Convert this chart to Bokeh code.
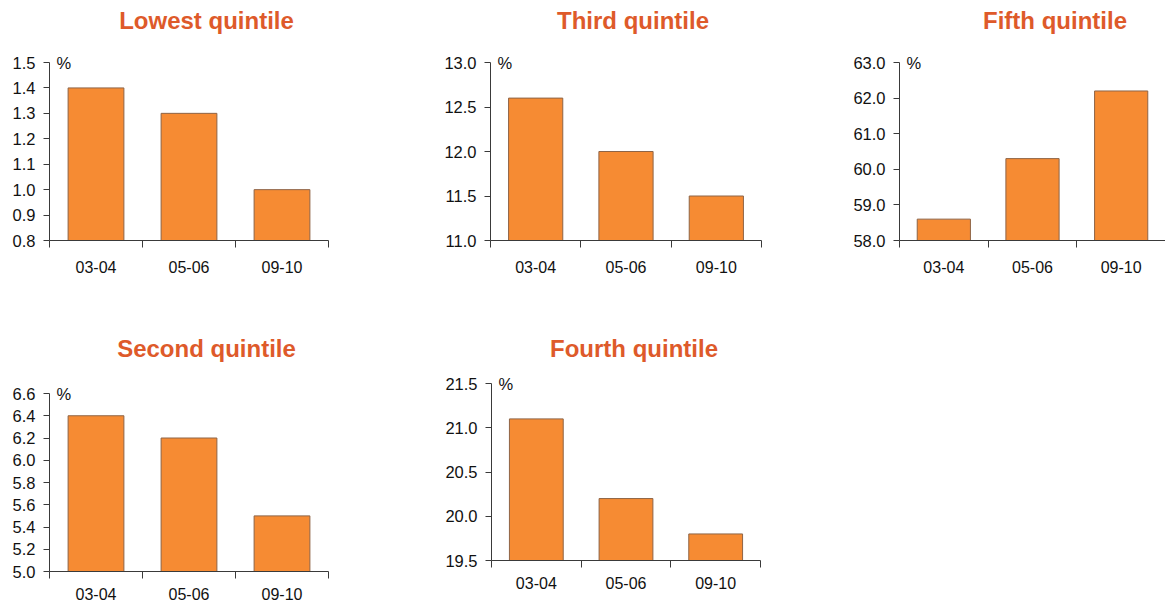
from bokeh.plotting import figure
from bokeh.models import (FactorRange, Range1d, LinearAxis, FixedTicker, Label,
                          NumeralTickFormatter)
from bokeh.layouts import column, row
from bokeh.embed import file_html
from bokeh.resources import INLINE

# ---------------- data ----------------
categories = ["03-04", "05-06", "09-10"]

lowest_values = [1.4, 1.3, 1.0]
second_values = [6.4, 6.2, 5.5]
third_values = [12.6, 12.0, 11.5]
fourth_values = [21.1, 20.2, 19.8]
fifth_values = [58.6, 60.3, 62.2]

lowest_ticks = [0.8, 0.9, 1.0, 1.1, 1.2, 1.3, 1.4, 1.5]
second_ticks = [5.0, 5.2, 5.4, 5.6, 5.8, 6.0, 6.2, 6.4, 6.6]
third_ticks = [11.0, 11.5, 12.0, 12.5, 13.0]
fourth_ticks = [19.5, 20.0, 20.5, 21.0, 21.5]
fifth_ticks = [58.0, 59.0, 60.0, 61.0, 62.0, 63.0]

titles = ["Lowest quintile", "Second quintile", "Third quintile",
          "Fourth quintile", "Fifth quintile"]
unit_label = "%"

# ---------------- style ----------------
TITLE_COLOR = "#DE5A2A"
BAR_FILL = "#F68B33"
BAR_LINE = "#8E6446"
AXIS_COLOR = "#3A3A3A"
TEXT_COLOR = "#111111"
FONT = "Liberation Sans"


def panel(title, values, ticks, width, height, bl, br, bb,
          top_tick_px, axis_px, title_dx, title_dy, x_standoff):
    """top_tick_px: distance from frame top to highest tick (px);
    axis_px: pixel span between lowest and highest tick;
    title_dx: title centre offset from the y axis (px);
    title_dy: title centre height above the highest tick (px)."""
    span = ticks[-1] - ticks[0]
    y_end = ticks[-1] + span * top_tick_px / axis_px
    p = figure(x_range=FactorRange(*categories),
               y_range=Range1d(ticks[0], y_end),
               width=width, height=height,
               min_border_left=bl, min_border_right=br,
               min_border_top=0, min_border_bottom=bb,
               x_axis_type=None, y_axis_type=None,
               output_backend="svg", toolbar_location=None)
    p.outline_line_color = None
    p.xgrid.visible = False
    p.ygrid.visible = False
    p.background_fill_color = "white"
    p.border_fill_color = "white"

    p.vbar(x=categories, top=values, bottom=ticks[0], width=0.6,
           fill_color=BAR_FILL, line_color=BAR_LINE, line_width=1)

    # y axis (line limited to the tick span)
    yaxis = LinearAxis(ticker=FixedTicker(ticks=ticks),
                       formatter=NumeralTickFormatter(format="0.0"),
                       bounds=(ticks[0], ticks[-1]))
    yaxis.axis_line_color = AXIS_COLOR
    yaxis.major_tick_line_color = AXIS_COLOR
    yaxis.major_tick_out = 6
    yaxis.major_tick_in = 0
    yaxis.minor_tick_line_color = None
    yaxis.major_label_standoff = 8
    yaxis.major_label_text_font = FONT
    yaxis.major_label_text_font_size = "16.5px"
    yaxis.major_label_text_color = TEXT_COLOR
    p.add_layout(yaxis, "left")

    # x axis: labels at category centres, ticks at category boundaries
    n = len(categories)
    centres = [i + 0.5 for i in range(n)]
    bounds = [float(i) for i in range(n + 1)]
    xaxis = LinearAxis(ticker=FixedTicker(ticks=centres, minor_ticks=bounds),
                       major_label_overrides={c: lab for c, lab in zip(centres, categories)})
    xaxis.axis_line_color = AXIS_COLOR
    xaxis.major_tick_line_color = None
    xaxis.minor_tick_line_color = AXIS_COLOR
    xaxis.minor_tick_out = 7
    xaxis.minor_tick_in = 0
    xaxis.major_tick_out = 7
    xaxis.major_tick_in = 0
    xaxis.major_label_standoff = x_standoff
    xaxis.major_label_text_font = FONT
    xaxis.major_label_text_font_size = "16px"
    xaxis.major_label_text_color = TEXT_COLOR
    p.add_layout(xaxis, "below")

    # percent sign next to the top of the y axis
    p.add_layout(Label(x=0, y=ticks[-1], x_offset=7, text=unit_label,
                       text_baseline="middle", text_align="left",
                       text_font=FONT, text_font_size="16.5px",
                       text_color=TEXT_COLOR))

    # panel title
    p.add_layout(Label(x=0, y=ticks[-1], x_offset=title_dx, y_offset=title_dy,
                       text=title, text_baseline="middle", text_align="center",
                       text_font=FONT, text_font_size="24px",
                       text_font_style="bold", text_color=TITLE_COLOR))
    return p


TOP_H = 316
BOT_H = 605 - TOP_H

# top row: frames from y=0 to y=240, highest tick at y=62
f1 = panel(titles[0], lowest_values, lowest_ticks, 420, TOP_H, 49, 92, TOP_H - 240,
           62, 178, 157, 42.5, 13)
f3 = panel(titles[2], third_values, third_ticks, 430, TOP_H, 70, 89, TOP_H - 240,
           62, 178, 142.5, 42.5, 13)
f5 = panel(titles[4], fifth_values, fifth_ticks, 315, TOP_H, 49, 0, TOP_H - 240,
           62, 178, 155.5, 42.5, 13)

# bottom row (starts at y=316)
f2 = panel(titles[1], second_values, second_ticks, 420, BOT_H, 49, 92, 605 - 571,
           393 - TOP_H, 178, 157, 45.3, 9)
f4 = panel(titles[3], fourth_values, fourth_ticks, 430, BOT_H, 71, 90, 605 - 560,
           383 - TOP_H, 177, 142.5, 35.3, 9)

layout = column(row(f1, f3, f5), row(column(f2), column(f4)))

open("out.html", "w").write(file_html(layout, INLINE))
